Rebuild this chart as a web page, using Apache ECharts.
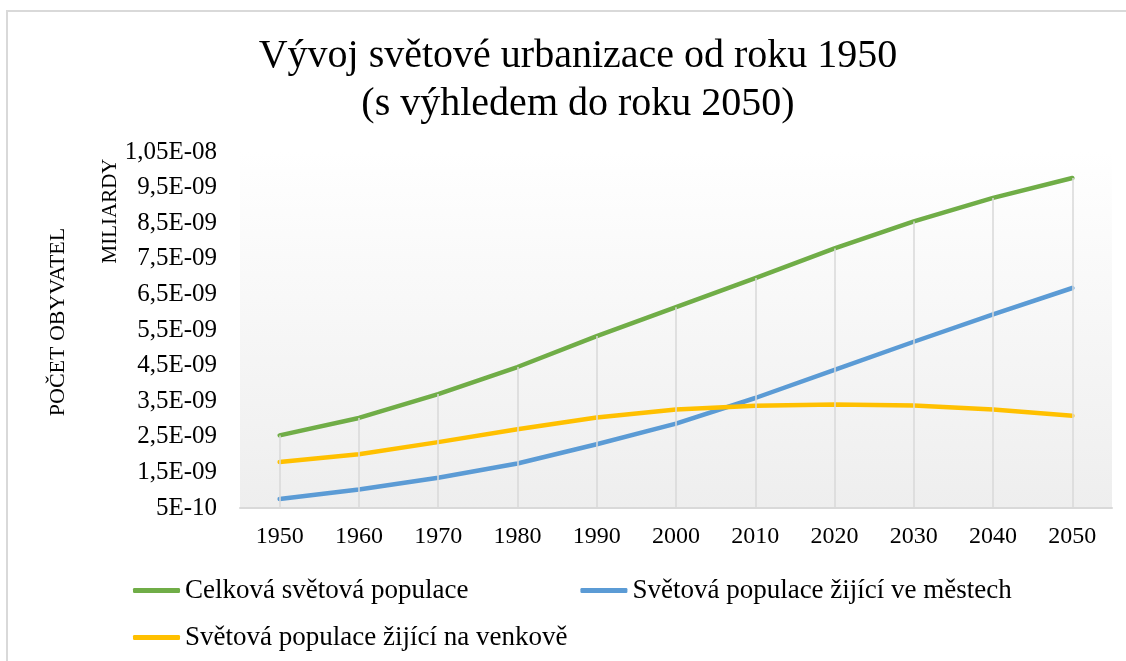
<!DOCTYPE html>
<html>
<head>
<meta charset="utf-8">
<script src="https://cdn.jsdelivr.net/npm/echarts@6/dist/echarts.min.js"></script>
<style>
  html, body { margin: 0; padding: 0; background: #fff; }
  #chart { width: 1126px; height: 661px; }
</style>
</head>
<body>
<div id="chart"></div>
<script>
// roky (kategorie)
var years = ['1950', '1960', '1970', '1980', '1990', '2000', '2010', '2020', '2030', '2040', '2050'];
// hodnoty v miliardách
var celkova = [2.54, 3.03, 3.70, 4.46, 5.33, 6.14, 6.96, 7.79, 8.55, 9.21, 9.77];
var mesta = [0.75, 1.02, 1.35, 1.75, 2.29, 2.87, 3.59, 4.38, 5.17, 5.94, 6.68];
var venkov = [1.79, 2.01, 2.35, 2.71, 3.04, 3.27, 3.37, 3.41, 3.38, 3.27, 3.09];
// popisky osy Y tak, jak jsou v originále
var yLabels = ['5E-10', '1,5E-09', '2,5E-09', '3,5E-09', '4,5E-09', '5,5E-09',
               '6,5E-09', '7,5E-09', '8,5E-09', '9,5E-09', '1,05E-08'];
var seriesNames = ['Celková světová populace', 'Světová populace žijící ve městech', 'Světová populace žijící na venkově'];

var font = "'Liberation Serif', 'Times New Roman', serif";
var myChart = echarts.init(document.getElementById('chart'));

// svislé čáry od osy k bodu celkové populace
var dropLines = years.map(function (y, i) {
    return [{ coord: [y, 0.5] }, { coord: [y, celkova[i]] }];
});

var option = {
    backgroundColor: '#fff',
    animation: false,
    textStyle: { fontFamily: font, color: '#000' },
    title: {
        text: 'Vývoj světové urbanizace od roku 1950\n(s výhledem do roku 2050)',
        left: 573,
        top: 27,
        textAlign: 'center',
        textStyle: { fontFamily: font, fontSize: 40, fontWeight: 'normal', color: '#000', lineHeight: 48 }
    },
    graphic: [
        {
            type: 'rect', silent: true, z: -10,
            shape: { x: 7, y: 11, width: 1140, height: 680 },
            style: { fill: null, stroke: '#d9d9d9', lineWidth: 2 }
        },
        {
            type: 'text', x: 58, y: 322, rotation: Math.PI / 2,
            style: { text: 'POČET OBYVATEL', font: '22px ' + font, fill: '#000', textAlign: 'center', textVerticalAlign: 'middle' }
        },
        {
            type: 'text', x: 110, y: 211, rotation: Math.PI / 2,
            style: { text: 'MILIARDY', font: '21px ' + font, fill: '#000', textAlign: 'center', textVerticalAlign: 'middle' }
        }
    ],
    legend: [
        {
            data: seriesNames.slice(0, 2),
            left: 133, top: 577, itemGap: 112, padding: 0,
            icon: 'roundRect', itemWidth: 47, itemHeight: 5,
            textStyle: { fontFamily: font, fontSize: 27, color: '#000' }
        },
        {
            data: seriesNames.slice(2),
            left: 133, top: 624, padding: 0,
            icon: 'roundRect', itemWidth: 47, itemHeight: 5,
            textStyle: { fontFamily: font, fontSize: 27, color: '#000' }
        }
    ],
    grid: {
        left: 240, right: 14, top: 152, bottom: 153,
        show: true, borderWidth: 0,
        backgroundColor: {
            type: 'linear', x: 0, y: 0, x2: 0, y2: 1,
            colorStops: [
                { offset: 0, color: '#ffffff' },
                { offset: 0.11, color: '#fdfdfd' },
                { offset: 1, color: '#eeeeee' }
            ]
        }
    },
    xAxis: {
        type: 'category',
        data: years,
        boundaryGap: true,
        axisLine: { lineStyle: { color: '#d9d9d9', width: 2 } },
        axisTick: { show: false },
        splitLine: { show: false },
        axisLabel: { margin: 17, fontFamily: font, fontSize: 24, color: '#000' }
    },
    yAxis: {
        type: 'value',
        min: 0.5, max: 10.5, interval: 1,
        axisLine: { show: false },
        axisTick: { show: false },
        splitLine: { show: false },
        axisLabel: {
            margin: 23, fontFamily: font, fontSize: 25, color: '#000',
            formatter: function (v) { return yLabels[Math.round(v - 0.5)]; }
        }
    },
    series: [
        {
            name: 'drop', type: 'line', data: [], silent: true, z: 1,
            markLine: {
                silent: true, symbol: ['none', 'none'],
                label: { show: false },
                lineStyle: { color: '#d9d9d9', width: 1.5, type: 'solid' },
                emphasis: { disabled: true },
                data: dropLines
            }
        },
        {
            name: seriesNames[0], type: 'line', data: celkova, z: 3,
            showSymbol: false, symbol: 'none',
            itemStyle: { color: '#70ad47' },
            lineStyle: { color: '#70ad47', width: 4.5, cap: 'round', join: 'round' }
        },
        {
            name: seriesNames[1], type: 'line', data: mesta, z: 3,
            showSymbol: false, symbol: 'none',
            itemStyle: { color: '#5b9bd5' },
            lineStyle: { color: '#5b9bd5', width: 4.5, cap: 'round', join: 'round' }
        },
        {
            name: seriesNames[2], type: 'line', data: venkov, z: 3,
            showSymbol: false, symbol: 'none',
            itemStyle: { color: '#ffc000' },
            lineStyle: { color: '#ffc000', width: 4.5, cap: 'round', join: 'round' }
        }
    ]
};

myChart.setOption(option);
</script>
</body>
</html>
